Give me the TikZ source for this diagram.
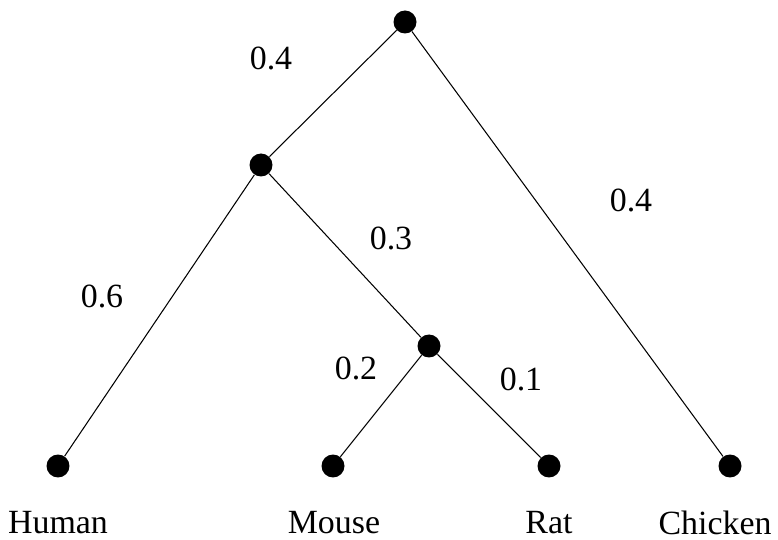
\documentclass[tikz,border=0pt]{standalone}
\usepackage{fontspec}
\setmainfont{Liberation Serif}
\usetikzlibrary{positioning}

\begin{document}
\begin{tikzpicture}[
    x=0.02cm, y=-0.02cm,
    every node/.style={font=\fontsize{19.3}{23}\selectfont},
    dotnode/.style={circle, fill=black, inner sep=0pt, minimum size=0.46cm},
    leaflabel/.style={inner sep=0pt},
    lenlabel/.style={inner sep=0pt},
    branch/.style={draw, line width=0.6pt},
]
\useasboundingbox (0,0) rectangle (778,540);

% ===== Internal nodes =====
\node[dotnode] (root) at (405,22) {};
\node[dotnode] (anc) at (261,165) {};
\node[dotnode] (mr) at (429,346) {};

% ===== Leaves =====
\node[dotnode] (human) at (58,466) {};
\node[dotnode] (mouse) at (333,466) {};
\node[dotnode] (rat) at (549,466) {};
\node[dotnode] (chicken) at (730,466) {};

% Leaf names
\node[leaflabel] (lhuman) at (58,523) {Human};
\node[leaflabel] (lmouse) at (334,523) {Mouse};
\node[leaflabel] (lrat) at (549,523) {Rat};
\node[leaflabel] (lchicken) at (715,523) {Chicken};

% ===== Branches =====
\draw[branch] (root) -- (anc);
\draw[branch] (root) -- (chicken);
\draw[branch] (anc) -- (human);
\draw[branch] (anc) -- (mr);
\draw[branch] (mr) -- (mouse);
\draw[branch] (mr) -- (rat);

% Branch lengths
\node[lenlabel] (banc) at (271,58) {0.4};
\node[lenlabel] (bchicken) at (631,200) {0.4};
\node[lenlabel] (bmr) at (391,238) {0.3};
\node[lenlabel] (bhuman) at (102,296) {0.6};
\node[lenlabel] (bmouse) at (356,368) {0.2};
\node[lenlabel] (brat) at (521,379) {0.1};

\end{tikzpicture}
\end{document}
